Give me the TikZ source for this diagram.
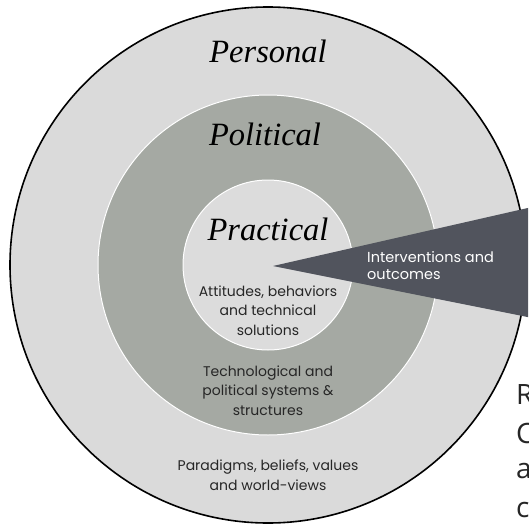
\documentclass[tikz,border=0pt]{standalone}
\usepackage{fontspec}
\setmainfont{Liberation Serif}
\newfontfamily\geofont{Poppins}
\newfontfamily\cutfont{Open Sans}
\definecolor{outerfill}{HTML}{DADADA}
\definecolor{midfill}{HTML}{A5A9A3}
\definecolor{innerfill}{HTML}{DCDCDC}
\definecolor{wedgefill}{HTML}{51545D}
\tikzset{
  ringtitle/.style={font=\fontsize{32.5}{40}\selectfont\itshape, anchor=base, inner sep=0pt},
  ringtext/.style={font=\geofont\fontsize{14}{19.5}\selectfont, align=center, anchor=base, inner sep=0pt, text=black!85},
  wedgetext/.style={font=\geofont\fontsize{14.5}{17}\selectfont, align=left, anchor=base west, inner sep=0pt, text=white},
  cuttext/.style={font=\cutfont\fontsize{28}{30}\selectfont, anchor=base west, inner sep=0pt, text=black!85}
}
\begin{document}
\begin{tikzpicture}[x=1pt,y=-1pt]
\useasboundingbox (0,0) rectangle (528,530);
\clip (0,0) rectangle (528,530);
\fill[white] (0,0) rectangle (528,530);
% circles
\coordinate (c) at (268,265);
\draw[fill=outerfill, line width=1.6pt] (c) circle[radius=258pt];
\draw[fill=midfill, draw=white, line width=1pt] (c) circle[radius=170pt];
\draw[fill=innerfill, draw=white, line width=1pt] (c) circle[radius=85pt];
% wedge
\coordinate (apex) at (273,266);
\coordinate (wtop) at (530,207.5);
\coordinate (wbot) at (530,317.5);
\fill[wedgefill] (apex) -- (wtop) -- (wbot) -- cycle;
% titles
\node[ringtitle] (personal) at (268,62) {Personal};
\node[ringtitle] (political) at (265,145) {Political};
\node[ringtitle] (practical) at (268,240) {Practical};
% texts (anchor = baseline of last line)
\node[wedgetext] (interv) at (367,279) {Interventions and\\outcomes};
\node[ringtext] (attitudes) at (268,335) {Attitudes, behaviors\\and technical\\solutions};
\node[ringtext] (techno) at (268,415) {Technological and\\political systems \&\\structures};
\node[ringtext] (paradigms) at (268,490) {Paradigms, beliefs, values\\and world-views};
% cut-off text at right edge
\node[cuttext] (cutR) at (516,404) {R};
\node[cuttext] (cutC) at (516,443) {C};
\node[cuttext] (cuta) at (516,478) {a};
\node[cuttext] (cutc) at (516,517) {c};
\end{tikzpicture}
\end{document}
